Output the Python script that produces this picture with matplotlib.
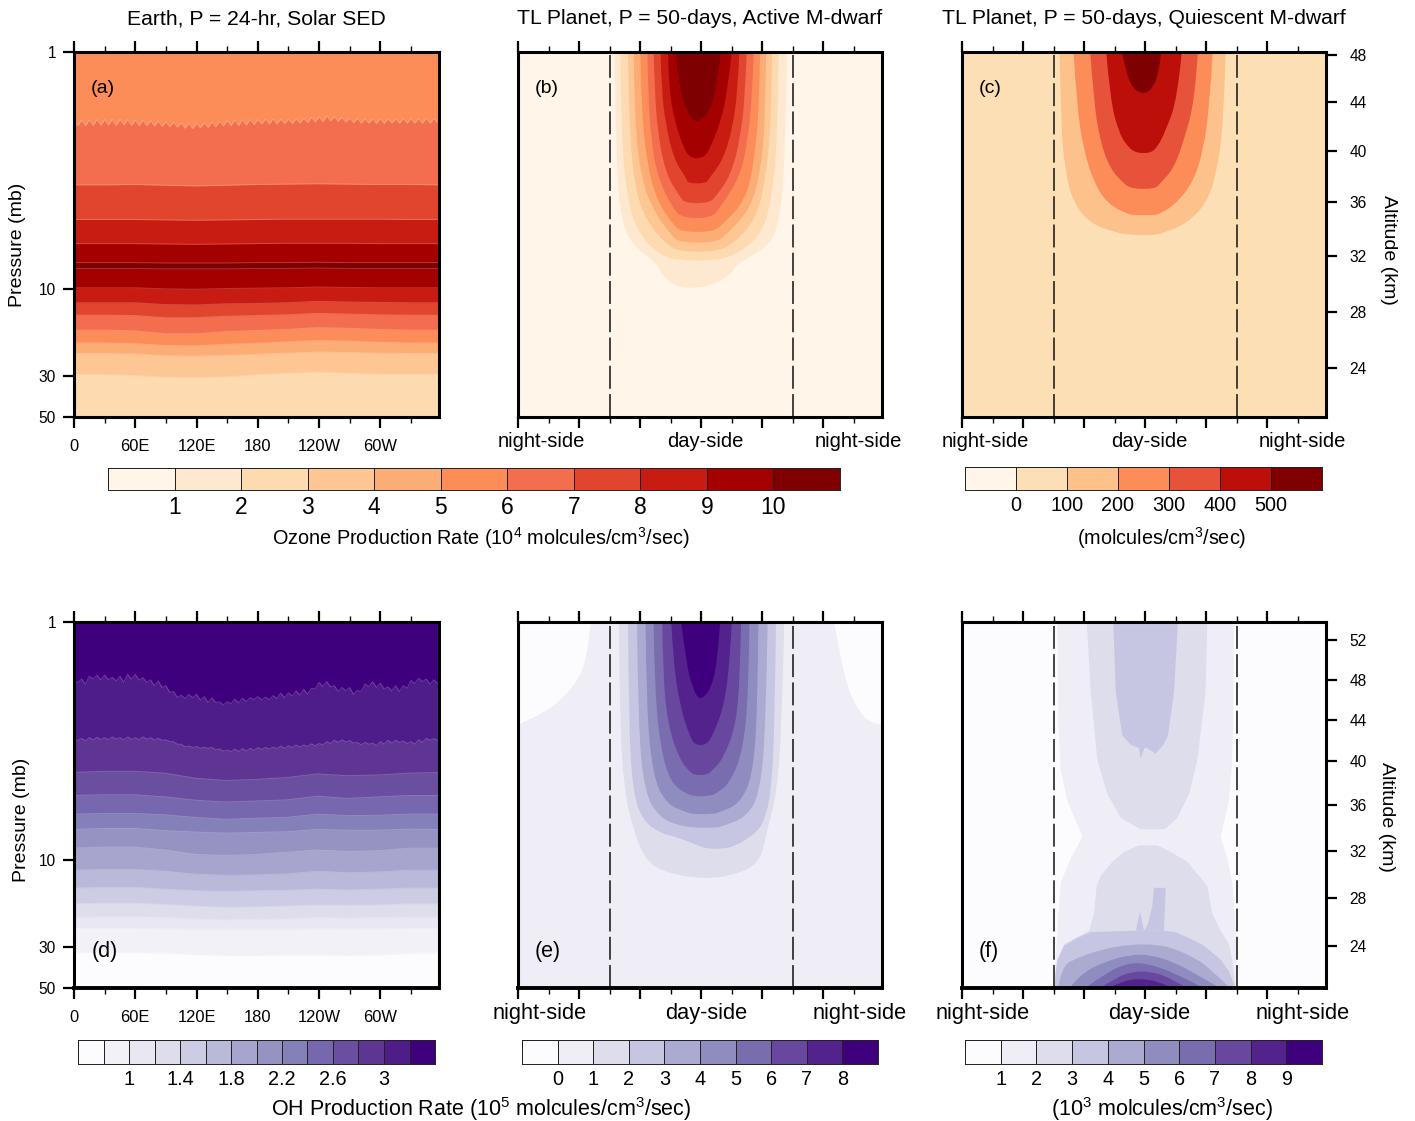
import numpy as np
import matplotlib
matplotlib.use('Agg')
import matplotlib.pyplot as plt
from matplotlib.path import Path
from matplotlib.patches import PathPatch

plt.rcParams['font.family'] = ['Liberation Sans', 'DejaVu Sans']
plt.rcParams['mathtext.fontset'] = 'custom'
plt.rcParams['mathtext.rm'] = 'Liberation Sans'
plt.rcParams['mathtext.default'] = 'rm'

W, H = 1415, 1121

# vertical coordinate is model level, 0 at the top of the panel, 100 at the bottom
pressure_labels = ['1', '10', '30', '50']
pressure_levels = [0, 65, 88.8, 100]
alt_top_labels = ['48', '44', '40', '36', '32', '28', '24']
alt_top_levels = [0.8, 13.7, 27.1, 41.1, 55.9, 71.2, 86.6]
alt_bot_labels = ['52', '48', '44', '40', '36', '32', '28', '24']
alt_bot_levels = [4.9, 15.8, 26.8, 38, 50, 62.6, 75.4, 88.5]
lon_labels = ['0', '60E', '120E', '180', '120W', '60W']

oranges11 = ['#FFF5E9', '#FEE9D0', '#FDDAB0', '#FDC692', '#FCAC75', '#FC8D59',
             '#F36E4F', '#E2452E', '#C81B11', '#A50000', '#7F0000']
oranges7 = ['#FFF5E9', '#FDDFB6', '#FDC28C', '#FC8D59', '#E7533A', '#BD0F0A', '#7F0000']
purples14 = ['#FCFBFD', '#F3F1F8', '#E9E8F2', '#DDDDEC', '#CCCCE4', '#B9B9DA', '#A7A4CE',
             '#9692C2', '#8481BA', '#7767AE', '#6A4FA0', '#5E3593', '#4F1D8A', '#3F007D']
purples10 = ['#FCFBFD', '#EFEDF5', '#DDDDEC', '#C6C6E2', '#ABAAD1', '#8F8CC0',
             '#796DB0', '#68479E', '#54228C', '#3F007D']

# tables below were read assuming 360 deg over the panel width, grid really stops at 357.5
LON_END = 357.5
LON_READ = LON_END / 360

# the sawtooth contours sit on the model grid, 3.75 deg apart
grid_lon = [i * 3.75 for i in range(97)]
band_lon = [0, 30, 60, 90, 120, 150, 180, 210, 240, 270, 300, 330, 360]

# panel (a), level of each contour against longitude
a_b01 = [18.6, 20.2, 18.7, 20.2, 18.6, 20.1, 18.5, 20.1, 18.5, 20.0, 18.5, 20.1, 18.5, 20.0, 18.5, 20.1,
         18.6, 20.2, 18.7, 20.2, 18.8, 20.3, 18.9, 20.4, 19.1, 20.5, 19.3, 20.6, 19.4, 20.9, 19.5, 21.0,
         19.5, 20.8, 19.4, 20.7, 19.2, 20.5, 19.0, 20.3, 18.8, 20.2, 18.6, 20.1, 18.5, 20.0, 18.5, 19.9,
         18.5, 19.7, 18.4, 19.7, 18.3, 19.7, 18.4, 19.6, 18.4, 19.6, 18.3, 19.5, 18.1, 19.4, 17.9, 19.2,
         17.7, 19.1, 17.5, 18.9, 17.7, 19.0, 17.9, 19.2, 18.1, 19.4, 18.2, 19.5, 18.3, 19.5, 18.3, 19.6,
         18.3, 19.6, 18.3, 19.5, 18.3, 19.5, 18.2, 19.5, 18.2, 19.5, 18.2, 19.5, 18.2, 19.5, 18.3, 19.5, 18.6]
a_b02 = [36.4, 36.4, 36.3, 36.5, 36.7, 36.5, 36.3, 36.2, 36.1, 36.2, 36.3, 36.3, 36.4]
a_b03 = [45.9, 45.9, 45.9, 46.0, 46.1, 46.0, 45.9, 45.8, 45.8, 45.8, 45.8, 45.9, 45.9]
a_b04 = [52.5, 52.5, 52.5, 52.6, 52.7, 52.6, 52.5, 52.4, 52.4, 52.4, 52.5, 52.5, 52.5]
a_b05 = [57.7, 57.7, 57.7, 57.8, 57.8, 57.8, 57.7, 57.7, 57.6, 57.7, 57.7, 57.7, 57.7]
a_b06 = [59.3, 59.3, 59.3, 59.4, 59.4, 59.4, 59.3, 59.3, 59.2, 59.3, 59.3, 59.3, 59.3]
a_b07 = [64.6, 64.6, 64.6, 64.9, 65.0, 64.8, 64.7, 64.6, 64.4, 64.5, 64.6, 64.6, 64.6]
a_b08 = [68.7, 68.7, 68.7, 69.2, 69.3, 69.0, 68.9, 68.7, 68.3, 68.5, 68.6, 68.7, 68.7]
a_b09 = [72.1, 72.1, 72.2, 72.8, 72.8, 72.4, 72.2, 72.0, 71.6, 71.8, 72.0, 72.1, 72.1]
a_b10 = [76.2, 76.2, 76.4, 77.2, 77.2, 76.6, 76.3, 76.0, 75.5, 75.7, 76.0, 76.2, 76.2]
a_b11 = [79.7, 79.7, 79.9, 80.4, 80.5, 80.1, 79.8, 79.4, 79.0, 79.2, 79.5, 79.7, 79.7]
a_b12 = [82.6, 82.6, 82.7, 83.2, 83.3, 83.1, 82.8, 82.5, 82.2, 82.3, 82.5, 82.6, 82.6]
a_b13 = [88.3, 88.4, 88.6, 89.1, 89.2, 89.0, 88.4, 88.0, 87.7, 88.0, 88.3, 88.3, 88.3]
a_bands = [a_b01, a_b02, a_b03, a_b04, a_b05, a_b06, a_b07, a_b08, a_b09, a_b10, a_b11, a_b12, a_b13]
a_colors = [5, 6, 7, 8, 9, 10, 9, 8, 7, 6, 5, 4, 3, 2]

# panel (d)
d_b01 = [16.1, 16.5, 15.6, 17.0, 14.8, 15.6, 14.5, 15.8, 14.5, 15.8, 15.1, 16.1, 14.8, 16.5, 14.3, 15.6,
         14.3, 15.9, 15.2, 16.5, 15.8, 17.4, 16.1, 17.9, 17.4, 19.2, 19.0, 20.6, 20.0, 20.9, 19.8, 20.7,
         19.7, 21.4, 20.4, 22.0, 20.7, 22.0, 21.8, 22.7, 21.8, 22.3, 21.1, 22.1, 20.8, 21.7, 20.7, 21.2,
         20.4, 21.3, 20.5, 21.2, 20.1, 20.9, 19.4, 20.7, 19.4, 20.2, 18.8, 20.0, 18.4, 19.7, 18.1, 18.3,
         16.5, 17.7, 16.3, 17.7, 17.4, 19.0, 17.9, 18.8, 17.9, 19.8, 18.7, 19.0, 16.9, 17.7, 16.3, 17.9,
         16.7, 18.3, 17.7, 18.8, 17.4, 19.0, 17.4, 18.1, 16.0, 16.8, 15.4, 16.3, 15.6, 17.0, 15.8, 16.8, 16.1]
d_b02 = [32.0, 32.4, 31.8, 32.5, 31.6, 32.2, 31.5, 32.1, 31.6, 32.2, 31.4, 32.0, 31.6, 32.2, 31.4, 32.1,
         31.6, 32.2, 31.4, 32.0, 31.6, 32.2, 31.8, 32.3, 32.2, 32.7, 32.7, 33.4, 33.4, 34.1, 33.9, 34.3,
         34.0, 34.5, 34.2, 34.5, 34.3, 34.9, 34.7, 35.3, 35.0, 35.4, 34.7, 35.4, 34.6, 35.3, 34.5, 35.1,
         34.3, 34.8, 34.3, 34.7, 34.2, 34.6, 33.9, 34.5, 33.8, 34.3, 33.6, 34.2, 33.6, 34.0, 33.3, 33.8,
         33.2, 33.6, 32.7, 33.2, 32.3, 32.9, 32.2, 32.8, 32.4, 33.1, 32.9, 33.6, 32.9, 33.4, 33.1, 33.8,
         32.7, 33.4, 32.3, 33.1, 32.3, 32.9, 32.5, 33.2, 32.7, 33.4, 32.2, 32.9, 31.8, 32.3, 31.9, 32.3, 32.0]
d_b03 = [41.1, 40.8, 40.8, 41.3, 42.7, 43.3, 43.0, 42.5, 41.5, 42.0, 41.8, 41.3, 41.1]
d_b04 = [47.4, 47.2, 47.2, 47.8, 48.7, 49.2, 48.9, 48.6, 47.6, 48.2, 47.8, 47.4, 47.4]
d_b05 = [52.5, 52.3, 52.3, 52.7, 53.4, 53.9, 53.6, 53.4, 52.5, 52.9, 52.8, 52.5, 52.5]
d_b06 = [56.7, 56.4, 56.4, 57.0, 57.4, 57.7, 57.5, 57.3, 56.7, 56.9, 56.9, 56.6, 56.7]
d_b07 = [61.8, 61.5, 61.5, 62.3, 63.5, 63.8, 63.5, 62.9, 62.3, 62.7, 62.5, 61.8, 61.8]
d_b08 = [67.8, 67.6, 67.6, 68.1, 68.9, 69.2, 69.1, 68.8, 68.1, 68.5, 68.3, 67.8, 67.8]
d_b09 = [72.7, 72.5, 72.5, 73.0, 73.4, 73.6, 73.4, 73.3, 73.0, 73.2, 73.0, 72.7, 72.7]
d_b10 = [77.0, 76.8, 76.8, 77.2, 77.6, 77.9, 77.8, 77.6, 77.3, 77.4, 77.3, 77.0, 77.0]
d_b11 = [80.7, 80.5, 80.5, 80.7, 81.1, 81.4, 81.2, 81.1, 80.7, 80.9, 80.7, 80.6, 80.6]
d_b12 = [83.7, 83.7, 83.7, 83.8, 84.0, 84.0, 84.0, 84.0, 83.8, 83.9, 83.8, 83.7, 83.7]
d_b13 = [90.3, 90.3, 90.3, 90.5, 90.9, 91.1, 91.1, 91.0, 91.0, 91.1, 91.0, 90.6, 90.3]
d_bands = [d_b01, d_b02, d_b03, d_b04, d_b05, d_b06, d_b07, d_b08, d_b09, d_b10, d_b11, d_b12, d_b13]
d_colors = [13, 12, 11, 10, 9, 8, 7, 6, 5, 4, 3, 2, 1, 0]

# closed contours of (b): (color index, level, west edge lon, east edge lon)
b_c1 = (1, [0, 29.6, 46.3, 53.2, 58.1, 61, 64, 64.6],
        [95.7, 96.7, 102.2, 113.7, 138.4, 141.7, 154.8, 165],
        [266, 264.4, 258.5, 248.6, 215.7, 210.7, 191, 175])
b_c2 = (2, [0, 24.7, 41.4, 50.2, 55.6, 57.1], [101.3, 102.2, 108.8, 120.3, 140, 160], [257.8, 256.8, 250.2, 240.3, 215.7, 195])
b_c3 = (3, [0, 19.8, 37.3, 46.3, 52.7, 54.7], [108.8, 109.8, 115.4, 126.9, 146.6, 160], [251.2, 250.6, 243.6, 233.8, 212.4, 195])
b_c4 = (4, [0, 19.8, 34.5, 43.3, 50.2, 52.2], [114.4, 115.4, 122, 133.5, 151.6, 160], [245.3, 244.6, 238.7, 228.8, 205.8, 195])
b_c5 = (5, [0, 14.9, 29.6, 40.4, 47.3, 49.3], [121, 122, 126.9, 136.8, 153.2, 162], [239.3, 238.7, 233.8, 225.5, 202.5, 192])
b_c6 = (6, [0, 10, 24.7, 34.5, 42.9, 45.5], [127.9, 128.5, 131.8, 138.4, 153.2, 163], [233.1, 232.1, 227.2, 219, 199.2, 191])
b_c7 = (7, [0, 10, 22.8, 33.6, 39.5, 41.4], [134.1, 135.1, 138.4, 146.6, 159.8, 165], [226.2, 224.9, 220.6, 210.7, 196, 189])
b_c8 = (8, [0, 10, 20.8, 29.7, 34.5, 36], [141, 141.7, 146.6, 154.8, 166.4, 168], [219, 217.3, 212.4, 202.5, 189.4, 186])
b_c9 = (9, [0, 10, 18.8, 25.7, 29.1], [148.3, 149.3, 154.8, 163, 170], [211.4, 207.5, 200.9, 191, 184])
b_c10 = (10, [0, 10, 16, 19], [155.8, 159.8, 166.4, 174], [200.9, 196, 190, 180])
b_shapes = [b_c1, b_c2, b_c3, b_c4, b_c5, b_c6, b_c7, b_c8, b_c9, b_c10]

# closed contours of (c)
c_c2 = (2, [0, 19.8, 33, 41.4, 47, 49.6, 50.2], [96.5, 97.8, 102.1, 110.3, 126.8, 153.2, 170], [260.9, 258.6, 252, 242.1, 222.3, 199.3, 190])
c_c3 = (3, [0, 14.9, 26.7, 35.5, 41.4, 44.4, 44.7], [110.3, 113.6, 120.2, 130.1, 143.3, 163, 172], [248, 244.7, 238.8, 228.9, 212.4, 196, 188])
c_c4 = (4, [0, 13, 24.7, 32, 36, 37.5], [126.8, 130.1, 136.7, 146.6, 159.7, 168], [233.2, 230.6, 219, 209.2, 196, 191])
c_c5 = (5, [0, 13, 21.8, 25.7, 27.7], [142.6, 146.6, 154.8, 163, 172], [217.4, 213, 201, 194, 187])
c_c6 = (6, [0, 6.5, 10, 11.2], [158.1, 163, 169.6, 176], [197, 194.3, 187.7, 183])
c_shapes = [c_c2, c_c3, c_c4, c_c5, c_c6]

# closed contours of (e), index 0 are the two night-side corners
e_nw = (0, [0, 7.7, 15.2, 20.8, 25, 28], [0, 0, 0, 0, 0, 0], [72, 69.4, 61.2, 44.7, 25, 0])
e_ne = (0, [0, 7.7, 18, 24.5, 27.3, 28.2], [312.6, 317.6, 325.8, 337.3, 347.2, 360], [360, 360, 360, 360, 360, 360])
e_c2 = (2, [0, 28.2, 46.9, 56.2, 63.7, 67.4, 69.2, 69.9], [99.9, 100.6, 105.5, 113.8, 123.6, 136.8, 159.8, 175], [263.3, 261, 255.8, 246.9, 241.3, 230.5, 209, 197])
e_c3 = (3, [0, 28.2, 46.9, 54.3, 57.6, 59, 60.9, 62], [108.8, 109.5, 113.8, 123.6, 140, 159.8, 176.2, 188], [255.1, 254, 250.2, 243.6, 235.4, 227.2, 217.3, 203])
e_c4 = (4, [0, 28.2, 46.9, 53.4, 55.7, 56.2], [117.7, 118.7, 125.3, 140, 159.8, 175], [246.9, 245.2, 239.3, 225.5, 202.9, 197])
e_c5 = (5, [0, 23.6, 42.2, 49.7, 52, 52.5], [126.2, 126.9, 133.5, 146.6, 166.4, 173], [237.7, 237, 232.1, 219, 199.2, 192])
e_c6 = (6, [0, 18.9, 35.7, 44.1, 46.9, 47.6], [134.1, 135.1, 141.7, 151.6, 166.4, 174], [228.8, 228.2, 222.2, 209.1, 196, 188])
e_c7 = (7, [0, 14.3, 28.2, 37.6, 40.8, 41.8], [142.7, 143.3, 148.3, 159.8, 169.6, 174], [220.6, 219.6, 215.7, 202.5, 191, 187])
e_c8 = (8, [0, 9.6, 22.6, 31, 33.6], [151.6, 153.2, 159.8, 169.6, 175], [211.4, 209.8, 204.2, 192.7, 186])
e_c9 = (9, [0, 11.5, 18, 20.8], [161.4, 166.4, 172.9, 178], [199.9, 196.9, 191, 183])
e_shapes = [e_nw, e_ne, e_c2, e_c3, e_c4, e_c5, e_c6, e_c7, e_c8, e_c9]

# closed contours of (f), most stay angular like the reference
f_c1 = (1, [0, 28.2, 40.4, 48.7, 58.5, 64.6, 71.1, 84.2, 100], [93.9, 94.9, 97.2, 103.8, 118.6, 107, 97.2, 93.9, 90.9], [268.4, 267.8, 266.1, 263.5, 255.3, 261.9, 266.8, 270.1, 271.7])
f_c2u = (2, [0, 18.9, 37.6, 46.9, 53.4, 56.5], [122.9, 126.8, 133.4, 143.3, 156.7, 176.4], [242.1, 240.4, 232.2, 224, 212.4, 200])
f_c2l = (2, [60.9, 62.7, 65.4, 69.2, 72, 79.5, 84.2, 87.9, 92.5, 100], [174.6, 159.8, 148.2, 136.7, 132.7, 130.1, 125.2, 100.5, 93.9, 90.9], [192.7, 205.9, 222.3, 233.9, 242.1, 247, 255.3, 263.5, 266.8, 270.1])
f_c3u = (3, [0, 18.9, 30.9, 33.4, 34.3], [149.2, 151.5, 158.1, 166.3, 174.6], [213.1, 209.2, 203.2, 198.6, 196])
f_c3a = (3, [34.3, 37.2], [174.6, 176.2], [180, 176.2])
f_c3b = (3, [34.3, 35.8], [182, 191], [196, 191])
f_c3l = (3, [84.2, 84.6, 86.2, 88.3, 92.1, 95.3, 100], [171.3, 126.8, 113.6, 100.5, 93.9, 92.2, 90.9], [199.3, 210.8, 224, 238.8, 255.3, 263.5, 270.1])
f_c3s = (3, [79, 84.2], [175.6, 171.3], [175.6, 179.5])
f_c3t = (3, [72.5, 77.6, 82.8, 84.2], [189.4, 187.7, 182.8, 179.5], [200.9, 200.3, 199.3, 199.3])
f_shapes = [f_c1, f_c2u, f_c2l, f_c3u, f_c3a, f_c3b, f_c3l, f_c3s, f_c3t]
# domes on the lower boundary, rows go from the bottom up
f_c4 = (4, [100, 94.4, 92.1, 89.3, 88.1], [94.9, 98.8, 110.3, 140, 166.3], [265.1, 243.7, 232.2, 210.8, 192.7])
f_c5 = (5, [100, 96.3, 92.9, 90.9], [106.4, 116.9, 140, 166.3], [255.3, 232.2, 209.2, 186.1])
f_c6 = (6, [100, 96.3, 93.2], [121.9, 140, 163], [238.8, 214, 182.8])
f_c7 = (7, [100, 97, 95.5], [136.7, 153.2, 169.6], [222.3, 204.2, 186.1])
f_c8 = (8, [100, 98.7, 97.6], [143.3, 156.5, 166.3], [209.2, 197.6, 184.4])
f_domes = [f_c4, f_c5, f_c6, f_c7, f_c8]

# colorbars
cb_a_edges = list(range(0, 12))
cb_a_ticks = list(range(1, 11))
cb_c_edges = [-100, 0, 100, 200, 300, 400, 500, 600]
cb_c_ticks = [0, 100, 200, 300, 400, 500]
cb_d_edges = [0.6, 0.8, 1, 1.2, 1.4, 1.6, 1.8, 2, 2.2, 2.4, 2.6, 2.8, 3, 3.2, 3.4]
cb_d_ticks = [1, 1.4, 1.8, 2.2, 2.6, 3]
cb_e_edges = list(range(-1, 10))
cb_e_ticks = list(range(0, 9))
cb_f_edges = list(range(0, 11))
cb_f_ticks = list(range(1, 10))


def px_axes(fig, left, top, right, bottom):
    return fig.add_axes([left / W, 1 - bottom / H, (right - left) / W, (bottom - top) / H])


def label(fig, x, y, s, size, **kw):
    fig.text(x / W, 1 - y / H, s, fontsize=size, ha='center', va='center', **kw)


def base_panel(fig, box, bg, bottom_lw=2.2):
    ax = px_axes(fig, *box)
    ax.set_facecolor(bg)
    ax.set_xlim(0, LON_END)
    ax.set_ylim(100, 0)
    ax.set_xticks(range(0, 360, 60))
    ax.set_xticks(range(30, 360, 60), minor=True)
    ax.set_xticklabels([])
    ax.set_yticks([])
    ax.tick_params(axis='x', which='major', top=True, length=8, width=1.6)
    ax.tick_params(axis='x', which='minor', top=True, length=4, width=1)
    for s in ax.spines.values():
        s.set_linewidth(2.2)
        s.set_zorder(10)
    ax.spines['bottom'].set_linewidth(bottom_lw)
    return ax


def draw_bands(ax, bands, colors, palette):
    # paint top down, every contour fills everything below itself
    ax.set_facecolor(palette[colors[0]])
    for lev, c in zip(bands, colors[1:]):
        lon = grid_lon if len(lev) == len(grid_lon) else np.array(band_lon) * LON_READ
        ax.fill_between(lon, lev, 100, color=palette[c], lw=0)
        ax.plot(lon, lev, color='white', alpha=0.22, lw=0.7)


def curved_patch(ax, lev, west, east, color):
    # table points act as quadratic bezier controls, so the outline comes out round
    pts = np.array(list(zip(west, lev)) + list(zip(east, lev))[::-1], dtype=float)
    pts[:, 0] *= LON_READ
    verts = [pts[0]]
    codes = [Path.MOVETO]
    for i in range(1, len(pts) - 1):
        end = pts[i + 1] if i == len(pts) - 2 else (pts[i] + pts[i + 1]) / 2
        verts += [pts[i], end]
        codes += [Path.CURVE3, Path.CURVE3]
    verts.append(pts[0])
    codes.append(Path.CLOSEPOLY)
    ax.add_patch(PathPatch(Path(verts, codes), facecolor=color, edgecolor='none', lw=0))


def draw_shapes(ax, shapes, palette, curved=True):
    for c, lev, west, east in shapes:
        if curved:
            curved_patch(ax, lev, west, east, palette[c])
        else:
            ax.fill_betweenx(lev, np.array(west) * LON_READ, np.array(east) * LON_READ, color=palette[c], lw=0)


def terminators(ax):
    for lon in (90, 270):
        ax.axvline(lon, color='#111111', lw=1.1, dashes=(15, 3.5), zorder=5)


def left_axis(ax):
    ax.set_xticklabels(lon_labels, fontsize=11.9)
    ax.tick_params(axis='x', which='major', pad=8)
    ax.set_yticks(pressure_levels)
    ax.set_yticklabels(pressure_labels, fontsize=11.2)
    ax.tick_params(axis='y', length=8, width=1.6, pad=5)


def right_axis(ax, levels, labels):
    ax.yaxis.tick_right()
    ax.set_yticks(levels)
    ax.set_yticklabels(labels, fontsize=11.2)
    ax.tick_params(axis='y', length=8, width=1.6, pad=9)


def colorbar(fig, box, edges, ticks, palette, size):
    ax = px_axes(fig, *box)
    vals = np.arange(len(edges) - 1)
    ax.pcolormesh(edges, [0, 1], vals[None, :], cmap=matplotlib.colors.ListedColormap(palette),
                  vmin=-0.5, vmax=len(edges) - 1.5, edgecolors='#222222', linewidth=0.7)
    ax.set_yticks([])
    ax.set_xticks(ticks)
    ax.set_xticklabels([str(t) for t in ticks], fontsize=size)
    ax.tick_params(axis='x', length=0, pad=4.5)
    for s in ax.spines.values():
        s.set_linewidth(0.7)
        s.set_edgecolor('#222222')
    return ax


fig = plt.figure(figsize=(W / 100, H / 100), dpi=100)

box_a = (74, 52, 439, 417)
box_b = (518, 52, 882, 417)
box_c = (962, 52, 1326, 417)
box_d = (74, 622, 439, 988)
box_e = (518, 622, 882, 988)
box_f = (962, 622, 1326, 988)

ax_a = base_panel(fig, box_a, oranges11[2])
draw_bands(ax_a, a_bands, a_colors, oranges11)
left_axis(ax_a)
ax_a.text(16.8, 9.9, '(a)', fontsize=14, va='center')

ax_b = base_panel(fig, box_b, oranges11[0])
draw_shapes(ax_b, b_shapes, oranges11)
terminators(ax_b)
ax_b.text(16.8, 9.9, '(b)', fontsize=14, va='center')

ax_c = base_panel(fig, box_c, oranges7[1])
draw_shapes(ax_c, c_shapes, oranges7)
terminators(ax_c)
right_axis(ax_c, alt_top_levels, alt_top_labels)
ax_c.text(16.8, 9.9, '(c)', fontsize=14, va='center')

ax_d = base_panel(fig, box_d, purples14[0], bottom_lw=2.8)
draw_bands(ax_d, d_bands, d_colors, purples14)
left_axis(ax_d)
ax_d.text(16.8, 90.1, '(d)', fontsize=15.5, va='center')

ax_e = base_panel(fig, box_e, purples10[1], bottom_lw=2.8)
draw_shapes(ax_e, e_shapes, purples10)
terminators(ax_e)
ax_e.text(16.8, 90.1, '(e)', fontsize=15.5, va='center')

ax_f = base_panel(fig, box_f, purples10[0], bottom_lw=2.8)
draw_shapes(ax_f, f_shapes, purples10, curved=False)
draw_shapes(ax_f, f_domes, purples10)
terminators(ax_f)
right_axis(ax_f, alt_bot_levels, alt_bot_labels)
ax_f.text(16.8, 90.1, '(f)', fontsize=15.5, va='center')

label(fig, 256, 19, 'Earth, P = 24-hr, Solar SED', 15.2)
label(fig, 700, 19, 'TL Planet, P = 50-days, Active M-dwarf', 15.2)
label(fig, 1144, 19, 'TL Planet, P = 50-days, Quiescent M-dwarf', 15.2)

label(fig, 18, 245, 'Pressure (mb)', 14, rotation=90)
label(fig, 22, 820, 'Pressure (mb)', 14, rotation=90)
label(fig, 1388, 250, 'Altitude (km)', 14, rotation=-90)
label(fig, 1386, 817, 'Altitude (km)', 14, rotation=-90)

for x, s in zip((541, 705, 858, 985, 1149, 1302), ['night-side', 'day-side', 'night-side'] * 2):
    label(fig, x, 442, s, 14.5)
for x, s in zip((540, 706, 860, 983, 1149, 1303), ['night-side', 'day-side', 'night-side'] * 2):
    label(fig, x, 1013, s, 15.7)

colorbar(fig, (108, 468, 840, 490), cb_a_edges, cb_a_ticks, oranges11, 16.5)
colorbar(fig, (965, 467, 1322, 490), cb_c_edges, cb_c_ticks, oranges7, 14.3)
colorbar(fig, (78, 1040, 435, 1064), cb_d_edges, cb_d_ticks, purples14, 14.3)
colorbar(fig, (522, 1040, 878, 1064), cb_e_edges, cb_e_ticks, purples10, 14.3)
colorbar(fig, (965, 1040, 1322, 1064), cb_f_edges, cb_f_ticks, purples10, 14.3)

label(fig, 481, 538.5, 'Ozone Production Rate (10$^{4}$ molcules/cm$^{3}$/sec)', 14.3)
label(fig, 1162, 538.5, '(molcules/cm$^{3}$/sec)', 14.3)
label(fig, 481, 1109.5, 'OH Production Rate (10$^{5}$ molcules/cm$^{3}$/sec)', 15.5)
label(fig, 1162, 1109.5, '(10$^{3}$ molcules/cm$^{3}$/sec)', 15.5)

fig.savefig('out.png', dpi=100)
